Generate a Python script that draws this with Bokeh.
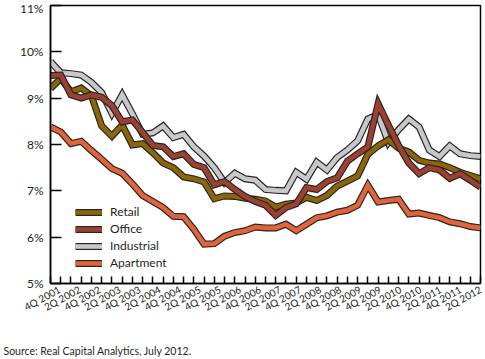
from bokeh.plotting import figure
from bokeh.models import (Range1d, FixedTicker, Legend, LegendItem, Title,
                          ColumnDataSource, LinearAxis)
from bokeh.embed import file_html
from bokeh.resources import INLINE

quarters = ["4Q 2001", "1Q 2002", "2Q 2002", "3Q 2002", "4Q 2002",
            "1Q 2003", "2Q 2003", "3Q 2003", "4Q 2003",
            "1Q 2004", "2Q 2004", "3Q 2004", "4Q 2004",
            "1Q 2005", "2Q 2005", "3Q 2005", "4Q 2005",
            "1Q 2006", "2Q 2006", "3Q 2006", "4Q 2006",
            "1Q 2007", "2Q 2007", "3Q 2007", "4Q 2007",
            "1Q 2008", "2Q 2008", "3Q 2008", "4Q 2008",
            "1Q 2009", "2Q 2009", "3Q 2009", "4Q 2009",
            "1Q 2010", "2Q 2010", "3Q 2010", "4Q 2010",
            "1Q 2011", "2Q 2011", "3Q 2011", "4Q 2011",
            "1Q 2012", "2Q 2012"]

retail = [9.21, 9.42, 9.14, 9.22, 9.05, 8.4, 8.18, 8.42, 7.99, 8.02,
          7.82, 7.6, 7.5, 7.3, 7.26, 7.19, 6.83, 6.89, 6.88, 6.84,
          6.82, 6.78, 6.65, 6.71, 6.74, 6.86, 6.79, 6.9, 7.1, 7.21,
          7.32, 7.79, 7.97, 8.1, 7.92, 7.84, 7.66, 7.6, 7.58, 7.5,
          7.4, 7.33, 7.26]
office = [9.49, 9.5, 9.07, 9.0, 9.07, 9.02, 8.84, 8.49, 8.53, 8.26,
          7.98, 7.95, 7.74, 7.8, 7.57, 7.5, 7.13, 7.2, 7.03, 6.88,
          6.77, 6.69, 6.47, 6.64, 6.72, 7.07, 7.03, 7.2, 7.28, 7.64,
          7.8, 7.95, 8.88, 8.42, 7.98, 7.6, 7.37, 7.5, 7.45, 7.27,
          7.37, 7.23, 7.08]
industrial = [9.79, 9.55, 9.53, 9.5, 9.34, 9.12, 8.67, 9.07, 8.66, 8.22,
              8.25, 8.4, 8.15, 8.22, 7.95, 7.75, 7.5, 7.18, 7.38, 7.26,
              7.23, 7.03, 7.01, 7.0, 7.4, 7.25, 7.62, 7.45, 7.72, 7.88,
              8.08, 8.55, 8.65, 8.04, 8.32, 8.55, 8.38, 7.88, 7.74, 7.97,
              7.8, 7.76, 7.74]
apartment = [8.38, 8.27, 8.02, 8.07, 7.87, 7.68, 7.48, 7.38, 7.15, 6.9,
             6.77, 6.64, 6.45, 6.44, 6.17, 5.85, 5.86, 6.02, 6.1, 6.14,
             6.22, 6.2, 6.2, 6.28, 6.14, 6.28, 6.42, 6.46, 6.54, 6.58,
             6.69, 7.12, 6.76, 6.79, 6.82, 6.5, 6.52, 6.47, 6.42, 6.33,
             6.29, 6.23, 6.2]

y_ticks = [5, 6, 7, 8, 9, 10, 11]
y_labels = ["5%", "6%", "7%", "8%", "9%", "10%", "11%"]
x_labels = quarters[::2]
source_note = "Source: Real Capital Analytics, July 2012."

FONT = "Lato"
TEXT = "#231f20"
OUTLINE = "#262626"

x = list(range(len(quarters)))

p = figure(width=485, height=359, output_backend="svg", toolbar_location=None,
           x_range=Range1d(0, len(quarters) - 1), y_range=Range1d(5, 11),
           min_border_left=50, min_border_right=5, min_border_top=5,
           min_border_bottom=76)
p.background_fill_color = "white"
p.border_fill_color = "white"
p.outline_line_color = "black"
p.outline_line_width = 1.5
p.grid.visible = False

# bottom axis: quarter tick marks only
p.xaxis.ticker = FixedTicker(ticks=x, minor_ticks=[])
p.xaxis.major_label_overrides = {i: "" for i in x}
p.xaxis.major_label_text_font_size = "0px"
p.xaxis.major_label_standoff = 0
p.xaxis.major_tick_in = 7
p.xaxis.major_tick_out = 0
p.xaxis.major_tick_line_width = 1.5
p.xaxis.axis_line_width = 1.5

# label axis: half-year labels, evenly spaced as in the original
p.extra_x_ranges = {"lab": Range1d(-0.45, len(x_labels) - 1)}
lab_axis = LinearAxis(x_range_name="lab",
                      ticker=FixedTicker(ticks=list(range(len(x_labels))),
                                         minor_ticks=[]))
lab_axis.major_label_overrides = {k: t for k, t in enumerate(x_labels)}
lab_axis.major_label_orientation = 0.5
lab_axis.major_tick_in = 0
lab_axis.major_tick_out = 0
lab_axis.axis_line_color = None
lab_axis.major_label_standoff = 5
lab_axis.major_label_text_font = FONT
lab_axis.major_label_text_font_size = "10px"
lab_axis.major_label_text_color = TEXT
p.add_layout(lab_axis, "below")

p.yaxis.ticker = FixedTicker(ticks=y_ticks, minor_ticks=[])
p.yaxis.major_label_overrides = {t: l for t, l in zip(y_ticks, y_labels)}
p.yaxis.major_tick_in = 11
p.yaxis.major_tick_out = 0
p.yaxis.major_tick_line_width = 1.5
p.yaxis.major_label_standoff = 7
p.yaxis.major_label_text_font = FONT
p.yaxis.major_label_text_font_size = "12px"
p.yaxis.major_label_text_color = TEXT
p.yaxis.axis_line_width = 1.5

series = [
    ("Retail", retail, "#8B6508"),
    ("Office", office, "#9E4030"),
    ("Industrial", industrial, "#C8C8CA"),
    ("Apartment", apartment, "#E2643A"),
]
draw_order = ["Industrial", "Retail", "Office", "Apartment"]
renderers = {}
for name in draw_order:
    vals, col = [(v, c) for n, v, c in series if n == name][0]
    src = ColumnDataSource(dict(x=x, y=vals))
    r1 = p.line("x", "y", source=src, line_color=OUTLINE, line_width=7,
                line_join="miter")
    r2 = p.line("x", "y", source=src, line_color=col, line_width=4.6,
                line_join="miter")
    renderers[name] = [r1, r2]

legend = Legend(items=[LegendItem(label=n, renderers=renderers[n])
                       for n, _, _ in series],
                location=(25, 13), padding=0, margin=0, spacing=2,
                glyph_width=27, glyph_height=14, label_height=14,
                label_standoff=8, border_line_color=None,
                background_fill_alpha=0,
                label_text_font=FONT, label_text_font_size="12px",
                label_text_color=TEXT)
p.add_layout(legend, "center")

# blank spacer panel between the tick labels and the source note
spacer = Title(text=" ", text_font_size="1px", standoff=19)
p.add_layout(spacer, "below")

note = Title(text=source_note, align="left", text_font=FONT,
             text_font_size="10.5px", text_font_style="normal",
             text_color=TEXT, offset=-47, standoff=0)
p.add_layout(note, "below")

open("out.html", "w").write(file_html(p, INLINE))
